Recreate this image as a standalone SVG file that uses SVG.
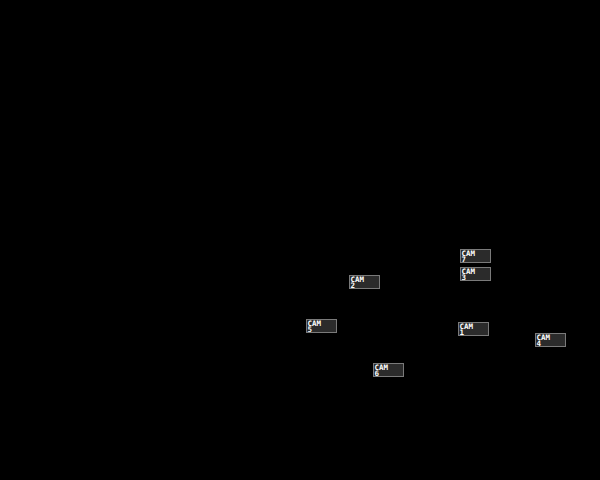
<svg xmlns="http://www.w3.org/2000/svg" width="600" height="480" viewBox="0 0 600 480">
<style>
.box{fill:#2b2b2b;stroke:#7a7a7a;stroke-width:1}
.lbl{fill:#ffffff;font-family:"DejaVu Sans Mono","Liberation Mono",monospace;font-size:7.5px;font-weight:bold}
</style>
<rect width="600" height="480" fill="#000000"/>
<g id="connectors"></g>
<g id="cam7" transform="translate(460.5,249.5)"><rect class="box" width="30" height="13"/><text class="lbl" x="1" y="6.5">CAM<tspan x="1" dy="6">7</tspan></text></g>
<g id="cam3" transform="translate(460.5,267.5)"><rect class="box" width="30" height="13"/><text class="lbl" x="1" y="6.5">CAM<tspan x="1" dy="6">3</tspan></text></g>
<g id="cam2" transform="translate(349.5,275.5)"><rect class="box" width="30" height="13"/><text class="lbl" x="1" y="6.5">CAM<tspan x="1" dy="6">2</tspan></text></g>
<g id="cam5" transform="translate(306.5,319.5)"><rect class="box" width="30" height="13"/><text class="lbl" x="1" y="6.5">CAM<tspan x="1" dy="6">5</tspan></text></g>
<g id="cam1" transform="translate(458.5,322.5)"><rect class="box" width="30" height="13"/><text class="lbl" x="1" y="6.5">CAM<tspan x="1" dy="6">1</tspan></text></g>
<g id="cam4" transform="translate(535.5,333.5)"><rect class="box" width="30" height="13"/><text class="lbl" x="1" y="6.5">CAM<tspan x="1" dy="6">4</tspan></text></g>
<g id="cam6" transform="translate(373.5,363.5)"><rect class="box" width="30" height="13"/><text class="lbl" x="1" y="6.5">CAM<tspan x="1" dy="6">6</tspan></text></g>
</svg>
